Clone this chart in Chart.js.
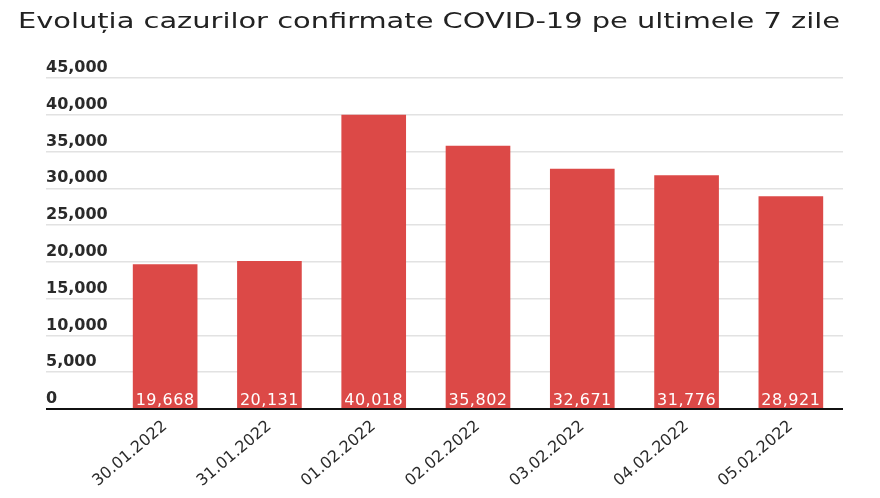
<!DOCTYPE html>
<html>
<head>
<meta charset="utf-8">
<script src="https://cdn.jsdelivr.net/npm/chart.js@4"></script>
<style>
  html, body { margin: 0; padding: 0; background: #fff; }
</style>
</head>
<body>
<canvas id="covidChart" width="880" height="498"></canvas>
<script>

const titleText = "Evoluția cazurilor confirmate COVID-19 pe ultimele 7 zile";

const days = ["30.01.2022", "31.01.2022", "01.02.2022", "02.02.2022", "03.02.2022", "04.02.2022", "05.02.2022"];

const cases = [19668, 20131, 40018, 35802, 32671, 31776, 28921];

const yMax = 45000;
const yStep = 5000;


// wide title across the top (the original is stretched sideways)
const wideTitle = {
    id: "wideTitle",
    afterDraw(chart) {
        const ctx = chart.ctx;
        ctx.save();
        ctx.font = "21px 'DejaVu Sans'";
        ctx.fillStyle = "#222222";
        ctx.textBaseline = "alphabetic";
        const w = ctx.measureText(titleText).width;
        ctx.translate(18, 28);
        ctx.scale(822 / w, 1);
        ctx.fillText(titleText, 0, 0);
        ctx.restore();
    }
};


// white value labels at the bottom of each bar
const valueLabels = {
    id: "valueLabels",
    afterDatasetsDraw(chart) {
        const ctx = chart.ctx;
        const meta = chart.getDatasetMeta(0);
        const bottom = chart.scales.y.getPixelForValue(0);
        ctx.save();
        ctx.fillStyle = "#ffffff";
        ctx.font = "16px 'DejaVu Sans'";
        ctx.letterSpacing = "0.5px";
        ctx.textAlign = "center";
        ctx.textBaseline = "alphabetic";
        meta.data.forEach(function (bar, i) {
            ctx.fillText(cases[i].toLocaleString("en-US"), bar.x, bottom - 4);
        });
        ctx.restore();
    }
};


new Chart(
    document.getElementById("covidChart"),
    {
        type: "bar",

        data: {
            labels: days,
            datasets: [{
                label: "Cazuri confirmate",
                data: cases,
                backgroundColor: "#dc4947",
                borderWidth: 0,
                categoryPercentage: 0.62,
                barPercentage: 1
            }]
        },

        options: {
            responsive: false,
            animation: false,
            layout: {
                padding: { left: 46, right: 37, top: 78, bottom: 0 }
            },

            plugins: {
                legend: { display: false },
                tooltip: { enabled: false },
                title: { display: false }
            },

            scales: {
                x: {
                    grid: { display: false },
                    border: { display: false },
                    ticks: {
                        color: "#2a2a2a",
                        font: { family: "'DejaVu Sans'", size: 16 },
                        minRotation: 40,
                        maxRotation: 40,
                        padding: 0
                    },
                    afterFit: function (scale) { scale.height = 89; }
                },
                y: {
                    min: 0,
                    max: yMax,
                    border: { display: false },
                    grid: {
                        color: function (c) { return c.tick && c.tick.value === 0 ? "#111111" : "#e2e2e2"; },
                        lineWidth: function (c) { return c.tick && c.tick.value === 0 ? 2 : 1.5; },
                        drawTicks: true,
                        tickLength: 67
                    },
                    ticks: {
                        stepSize: yStep,
                        color: "#2a2a2a",
                        font: { family: "'DejaVu Sans'", size: 16, weight: "bold" },
                        crossAlign: "far",
                        labelOffset: -10,
                        padding: -60
                    },
                    afterFit: function (scale) { scale.width = 67; }
                }
            }
        },

        plugins: [wideTitle, valueLabels]
    }
);

</script>
</body>
</html>
